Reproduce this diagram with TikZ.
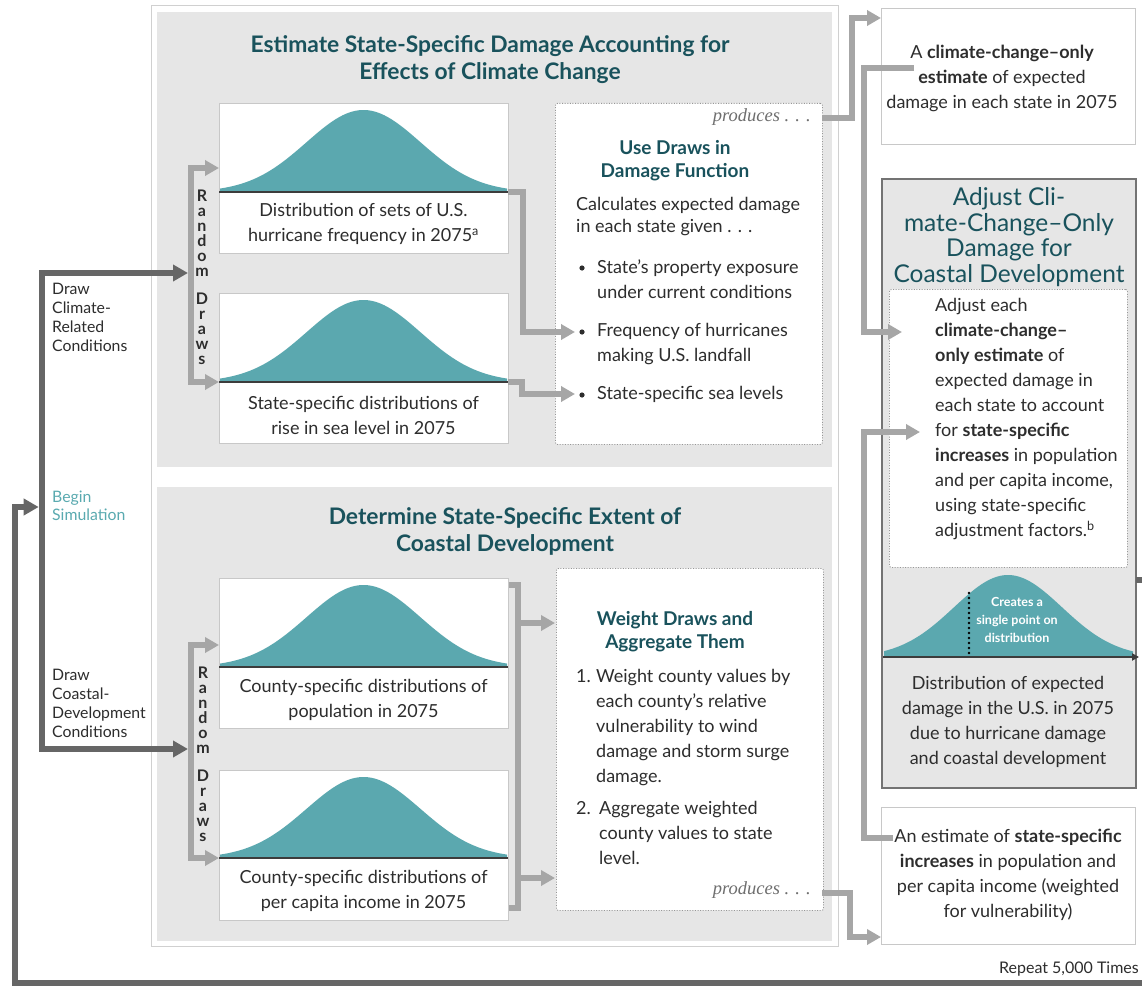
\documentclass[tikz,border=0pt]{standalone}
\usepackage{fontspec}
\setmainfont{Lato}
\newfontfamily\serifit{Liberation Serif}
\usetikzlibrary{arrows.meta,calc}

\definecolor{panelgray}{RGB}{230,230,230}
\definecolor{framegray}{RGB}{208,208,208}
\definecolor{boxgray}{RGB}{200,200,200}
\definecolor{connlight}{RGB}{166,166,166}
\definecolor{conndark}{RGB}{102,102,102}
\definecolor{adjborder}{RGB}{115,115,115}
\definecolor{curvefill}{RGB}{91,168,175}
\definecolor{titleteal}{RGB}{25,82,92}
\definecolor{labelteal}{RGB}{90,170,176}
\definecolor{bodytext}{RGB}{45,45,45}
\definecolor{axisdark}{RGB}{60,60,60}
\definecolor{dotgray}{RGB}{150,150,150}
\definecolor{prodgray}{RGB}{110,110,110}

% bell-shaped distribution: left x, right x, centre, baseline row, height, sigma
\newcommand{\bellcurve}[6]{%
  \fill[curvefill] (#1,#4) -- plot[domain=#1:#2, samples=90]
    (\x,{#4-#5*exp(-0.5*((\x-#3)/#6)^2)}) -- (#2,#4) -- cycle;}

\begin{document}
\begin{tikzpicture}[x=1pt,y=-1pt,line join=miter,
  body/.style={font=\fontsize{18}{25}\selectfont, text=bodytext, inner sep=0pt},
  sidelabel/.style={font=\fontsize{15.8}{19}\selectfont, text=bodytext, inner sep=0pt, align=left, anchor=north west},
  paneltitle/.style={font=\fontsize{22.8}{27}\selectfont\bfseries, text=titleteal, align=center, inner sep=0pt},
  boxtitle/.style={font=\fontsize{19}{23}\selectfont\bfseries, text=titleteal, align=center, inner sep=0pt},
  adjtitle/.style={font=\fontsize{24.5}{25.5}\selectfont, text=titleteal, align=center, inner sep=0pt},
  letters/.style={font=\fontsize{16}{15}\selectfont\bfseries, text=bodytext, align=center, inner sep=0pt},
  creates/.style={font=\fontsize{12.5}{18}\selectfont\bfseries, text=white, align=center, inner sep=0pt},
  produces/.style={font=\fontsize{18.5}{20}\serifit\itshape, text=prodgray, inner sep=0pt, anchor=east},
  distbox/.style={draw=boxgray, fill=white, line width=0.8pt, minimum width=289pt, minimum height=150pt, anchor=north west, inner sep=0pt},
  outbox/.style={draw=boxgray, fill=white, line width=0.8pt, anchor=north west, inner sep=0pt},
  dotbox/.style={draw=dotgray, dash pattern=on 1pt off 1.6pt, fill=white, line width=0.9pt, rounded corners=2pt, anchor=north west, inner sep=0pt},
  adjbox/.style={draw=adjborder, fill=panelgray, line width=2pt, anchor=north west, inner sep=0pt},
  axisline/.style={draw=axisdark, line width=2pt},
  wire/.style={draw=connlight, line width=6pt},
  wirearrow/.style={wire, -{Triangle[length=14pt,width=15pt]}},
  wirebi/.style={wire, {Triangle[length=14pt,width=15pt]}-{Triangle[length=14pt,width=15pt]}},
  simloop/.style={draw=conndark, line width=6.5pt},
  looparrow/.style={simloop, -{Triangle[length=15pt,width=16pt]}},
  pointline/.style={draw=black, line width=2.6pt, dash pattern=on 0pt off 5pt, line cap=round}]

\clip (0,0) rectangle (1142,987);
\fill[white] (0,0) rectangle (1142,987);

% ---------- framed work area with two grey panels ----------
\draw[framegray, line width=1pt, fill=white] (151,6) rectangle (838,946);
\fill[panelgray] (157,12) rectangle (832,467);
\fill[panelgray] (157,487) rectangle (832,941);

\node[paneltitle] (title1) at (490,60) {Estimate State-Specific Damage Accounting for\\Effects of Climate Change};
\node[paneltitle] (title2) at (505,531) {Determine State-Specific Extent of\\Coastal Development};

% ---------- distribution boxes ----------
\node[distbox] (d1) at (219,103) {};
\bellcurve{220}{507}{363.5}{192}{82}{57}
\draw[axisline] (219,192) -- (508,192);
\node[body, align=center] (d1t) at (363.5,224) {Distribution of sets of U.S.\\hurricane frequency in 2075\textsuperscript{a}};

\node[distbox] (d2) at (219,293) {};
\bellcurve{220}{507}{363.5}{382}{82}{57}
\draw[axisline] (219,382) -- (508,382);
\node[body, align=center] (d2t) at (363.5,415) {State-specific distributions of\\rise in sea level in 2075};

\node[distbox] (d3) at (219,578) {};
\bellcurve{220}{507}{363.5}{667}{82}{57}
\draw[axisline] (219,667) -- (508,667);
\node[body, align=center] (d3t) at (363.5,699.5) {County-specific distributions of\\population in 2075};

\node[distbox] (d4) at (219,770) {};
\bellcurve{220}{507}{363.5}{858}{81}{57}
\draw[axisline] (219,858) -- (508,858);
\node[body, align=center] (d4t) at (363.5,891) {County-specific distributions of\\per capita income in 2075};

\node[letters] (rd1) at (202,277) {R\\a\\n\\d\\o\\m\\[13pt]D\\r\\a\\w\\s};
\node[letters] (rd2) at (203,754) {R\\a\\n\\d\\o\\m\\[13pt]D\\r\\a\\w\\s};

% ---------- damage function box ----------
\node[dotbox, minimum width=267pt, minimum height=341pt] (use) at (555,103) {};
\node[produces] (prod1t) at (811,117) {produces . . .};
\node[boxtitle] (uset) at (675,161) {Use Draws in\\Damage Function};
\node[body, anchor=north west, align=left, font=\fontsize{18}{22}\selectfont] (usebody) at (576,197.5) {Calculates expected damage\\in each state given . . .};
\fill[bodytext] (582,268) circle[radius=2.6pt];
\fill[bodytext] (582,332) circle[radius=2.6pt];
\fill[bodytext] (582,395) circle[radius=2.6pt];
\node[body, anchor=north west, align=left] (ub1) at (597,259.5) {State’s property exposure\\under current conditions};
\node[body, anchor=north west, align=left] (ub2) at (597,323.5) {Frequency of hurricanes\\making U.S. landfall};
\node[body, anchor=north west, align=left] (ub3) at (597,386.5) {State-specific sea levels};

% ---------- weighting box ----------
\node[dotbox, minimum width=267pt, minimum height=342pt] (wgt) at (556,568) {};
\node[boxtitle] (wgtt) at (675,632) {Weight Draws and\\Aggregate Them};
\node[body, anchor=north west] (w1n) at (576,669.5) {1.};
\node[body, anchor=north west, align=left] (w1) at (596,669.5) {Weight county values by\\each county’s relative\\vulnerability to wind\\damage and storm surge\\damage.};
\node[body, anchor=north west] (w2n) at (576,801.5) {2.};
\node[body, anchor=north west, align=left] (w2) at (599,801.5) {Aggregate weighted\\county values to state\\level.};
\node[produces] (prod2t) at (811,890) {produces . . .};

% ---------- right column ----------
\node[outbox, minimum width=254pt, minimum height=136pt] (est1) at (881,8) {};
\node[body, align=center] (est1t) at (1002,78.5) {A \textbf{climate-change--only}\\\textbf{estimate} of expected\\damage in each state in 2075};

\node[adjbox, minimum width=254pt, minimum height=609pt] (adj) at (881,178) {};
\node[adjtitle] (adjt) at (1009,237) {Adjust Cli-\\mate-Change--Only\\Damage for\\Coastal Development};
\node[dotbox, minimum width=238pt, minimum height=278pt] (adjnote) at (889,289) {};
\node[body, anchor=north west, align=left] (adjtext) at (935,298.5) {Adjust each\\\textbf{climate-change--}\\\textbf{only estimate} of\\expected damage in\\each state to account\\for \textbf{state-specific}\\\textbf{increases} in population\\and per capita income,\\using state-specific\\adjustment factors.\textsuperscript{b}};
\bellcurve{884}{1133}{1008}{657}{82}{54}
\draw[pointline] (969,593) -- (969,657);
\draw[axisline, -{Triangle[length=7pt,width=7pt]}] (883,657) -- (1139,657);
\node[creates] (crt) at (1017,620) {Creates a\\single point on\\distribution};
\node[body, align=center] (adjdist) at (1008,722) {Distribution of expected\\damage in the U.S. in 2075\\due to hurricane damage\\and coastal development};

\node[outbox, minimum width=254pt, minimum height=137pt] (est2) at (881,807) {};
\node[body, align=center] (est2t) at (1008,874.5) {An estimate of \textbf{state-specific}\\\textbf{increases} in population and\\per capita income (weighted\\for vulnerability)};

% ---------- side labels ----------
\node[sidelabel] (lab1) at (52,283) {Draw\\Climate-\\Related\\Conditions};
\node[sidelabel, text=labelteal, font=\fontsize{15.8}{18}\selectfont] (lab2) at (52,491) {Begin\\Simulation};
\node[sidelabel] (lab3) at (52,669) {Draw\\Coastal-\\Development\\Conditions};
\node[font=\fontsize{16}{18}\selectfont, text=bodytext, anchor=east, inner sep=0pt] (rep) at (1139,969) {Repeat 5,000 Times};

% ---------- named junctions ----------
\coordinate (bar1top) at (191,168);
\coordinate (bar1bot) at (191,382);
\coordinate (bar2top) at (191,645);
\coordinate (bar2bot) at (191,858);
\coordinate (bar1in) at (188,273);
\coordinate (bar2in) at (188,749);
\coordinate (junction) at (42,507);
\coordinate (loopout) at (1136,580);
\coordinate (loopR) at (1170,983);
\coordinate (loopL) at (15,983);
\coordinate (d1b) at (508,192);
\coordinate (d2b) at (508,382);
\coordinate (k1) at (523,332);
\coordinate (k2) at (522,394);
\coordinate (bullet2) at (575,332);
\coordinate (bullet3) at (575,394);
\coordinate (k3a) at (518,585);
\coordinate (k3b) at (518,908);
\coordinate (win1) at (555,623);
\coordinate (win2) at (555,878);
\coordinate (prod1) at (822,118);
\coordinate (k4) at (852,18);
\coordinate (prod2) at (822,893);
\coordinate (k7) at (850,937);
\coordinate (est1src) at (914,68);
\coordinate (k5) at (864,332);
\coordinate (adjin1) at (902,332);
\coordinate (est2src) at (893,838);
\coordinate (k6) at (864,432);
\coordinate (adjin2) at (920,432);

% ---------- light connectors ----------
\draw[wirebi] (d1.west |- bar1top) -- (bar1top) -- (bar1bot) -- (d2.west |- bar1bot);
\draw[wirebi] (d3.west |- bar2top) -- (bar2top) -- (bar2bot) -- (d4.west |- bar2bot);
\draw[wirearrow] (d1b) -- (d1b -| k1) -- (k1) -- (bullet2);
\draw[wirearrow] (d2b) -- (d2b -| k2) -- (k2) -- (bullet3);
\draw[wire] (d3.east |- k3a) -- (k3a) -- (k3b) -- (d4.east |- k3b);
\draw[wirearrow] (k3a |- win1) -- (win1);
\draw[wirearrow] (k3a |- win2) -- (win2);
\draw[wirearrow] (prod1) -| (k4) -- (est1.west |- k4);
\draw[wirearrow] (prod2) -| (k7) -- (est2.west |- k7);
\draw[wirearrow] (est1src) -| (k5) -- (adjin1);
\draw[wirearrow] (est2src) -| (k6) -- (adjin2);

% ---------- simulation loop ----------
\draw[looparrow] (junction) |- (bar1in);
\draw[looparrow] (junction) |- (bar2in);
\draw[looparrow, shorten >=3.3pt] (loopout) -| (loopR) -- (loopL) |- (junction);
\end{tikzpicture}
\end{document}
